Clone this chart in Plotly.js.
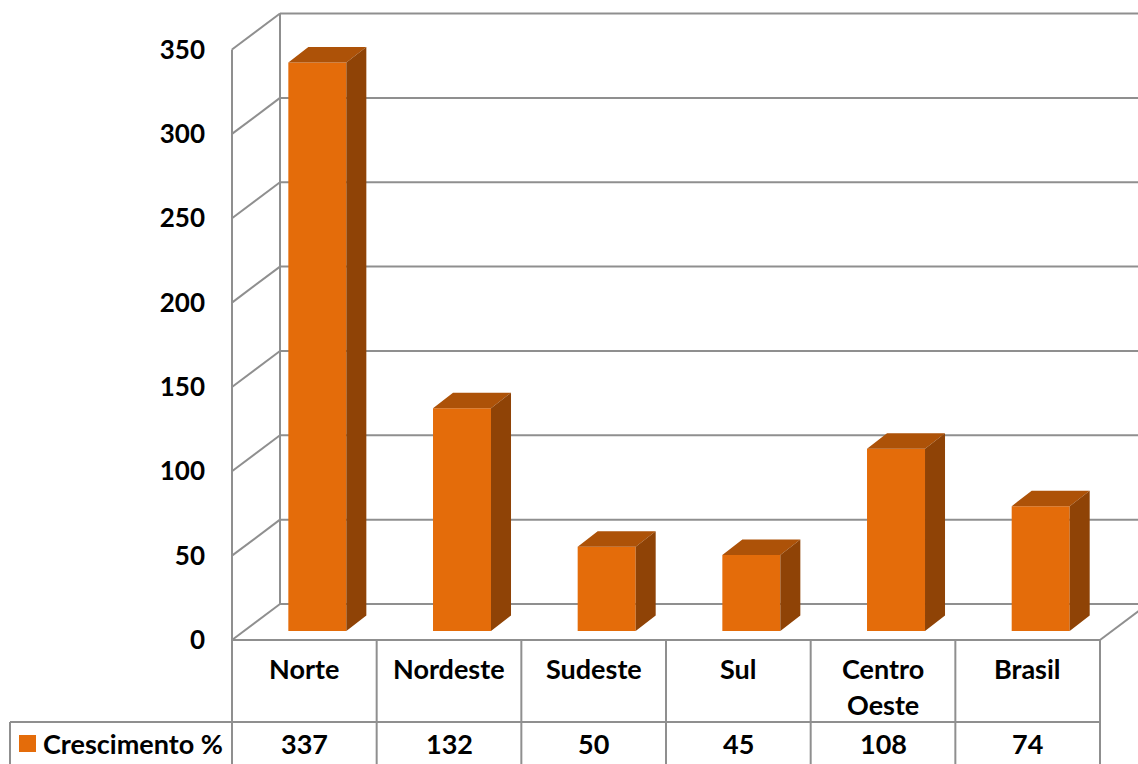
<!DOCTYPE html>
<html>
<head>
<meta charset="utf-8">
<script src="https://cdn.plot.ly/plotly-3.0.1.min.js"></script>
<style>html,body{margin:0;padding:0;background:#fff;}#chart{width:1138px;height:764px;}</style>
</head>
<body>
<div id="chart"></div>
<script>
// ---- data ----
const categories = ['Norte', 'Nordeste', 'Sudeste', 'Sul', 'Centro<br>Oeste', 'Brasil'];
const values = [337, 132, 50, 45, 108, 74];
const seriesName = 'Crescimento %';
const yTicks = [0, 50, 100, 150, 200, 250, 300, 350];
const yTickLabels = ['0', '50', '100', '150', '200', '250', '300', '350'];

// ---- geometry (layout only) ----
const W = 1138, H = 764;
const X0 = 232, UX = 144.67;   // px of x=0, px per category
const Y0 = 640, UY = 1.687;    // px of value 0 (front plane), px per unit
const px2x = p => (p - X0) / UX;
const py2y = p => (Y0 - p) / UY;
const DX = 48 / UX, DY = 36 / UY;           // full floor depth
const BFX = 13 / UX, BFY = 9 / UY;          // bar front plane offset
const BDX = 20 / UX, BDY = 15.5 / UY;       // bar depth
const BW = 58 / UX;                         // bar width
const GRID = '#8f8f8f';
const FONT = {family: 'Lato, "Open Sans", sans-serif', size: 27, color: '#000', weight: 700};
const TICKFONT = {family: 'Lato, "Open Sans", sans-serif', size: 26, color: '#000', weight: 700};

const nCat = categories.length;
const xc = categories.map((_, i) => i + 0.5 + BFX);

// front faces
const frontFace = {
  type: 'bar', x: xc, y: values, base: values.map(() => BFY), width: BW,
  marker: {color: '#e46c0a', line: {width: 0}}, hoverinfo: 'skip', name: seriesName
};
// top and side faces
const tx = [], ty = [], sx = [], sy = [];
values.forEach((v, i) => {
  const xl = xc[i] - BW / 2, xr = xc[i] + BW / 2, b = BFY, t = BFY + v;
  tx.push(xl, xl + BDX, xr + BDX, xr, xl, null);
  ty.push(t, t + BDY, t + BDY, t, t, null);
  sx.push(xr, xr + BDX, xr + BDX, xr, xr, null);
  sy.push(b, b + BDY, t + BDY, t, b, null);
});
const topFace = {type: 'scatter', mode: 'lines', x: tx, y: ty, fill: 'toself', fillcolor: '#ad5208',
  line: {width: 0, color: 'rgba(0,0,0,0)'}, hoverinfo: 'skip'};
const sideFace = {type: 'scatter', mode: 'lines', x: sx, y: sy, fill: 'toself', fillcolor: '#8f4306',
  line: {width: 0, color: 'rgba(0,0,0,0)'}, hoverinfo: 'skip'};

// ---- shapes ----
const shapes = [];
const line = (x0, y0, x1, y1, w) => shapes.push({type: 'line', x0, y0, x1, y1, xref: 'x', yref: 'y',
  layer: 'below', line: {color: GRID, width: w || 2}});
const xRight = px2x(W + 20);
yTicks.forEach(t => {
  line(0, t, DX, t + DY);
  line(DX, t + DY, xRight, t + DY);
});
line(0, 0, 0, yTicks[yTicks.length - 1]);
line(DX, DY, DX, yTicks[yTicks.length - 1] + DY);
line(nCat, 0, nCat + DX, DY);
// table
const yBottom = py2y(H + 10);
line(0, 0, nCat, 0);
for (let i = 0; i <= nCat; i++) line(i, 0, i, yBottom);
line(px2x(10), py2y(722), nCat, py2y(722));
line(px2x(10), py2y(722), px2x(10), yBottom);
// legend key
shapes.push({type: 'rect', xref: 'x', yref: 'y', x0: px2x(19), x1: px2x(36), y0: py2y(735), y1: py2y(752),
  fillcolor: '#e46c0a', line: {width: 0}});

// ---- annotations ----
const annotations = [];
categories.forEach((c, i) => {
  const lines = c.split('<br>');
  lines.forEach((ln, k) => annotations.push({x: i + 0.5, y: py2y(668 + 36 * k), xref: 'x', yref: 'y',
    text: ln, showarrow: false, font: FONT, xanchor: 'center', yanchor: 'middle'}));
});
values.forEach((v, i) => annotations.push({x: i + 0.5, y: py2y(743), xref: 'x', yref: 'y',
  text: String(v), showarrow: false, font: FONT, xanchor: 'center', yanchor: 'middle'}));
annotations.push({x: px2x(41), y: py2y(743), xref: 'x', yref: 'y', text: seriesName, showarrow: false,
  font: FONT, xanchor: 'left', yanchor: 'middle'});

const layout = {
  width: W, height: H, margin: {l: 0, r: 0, t: 0, b: 0},
  paper_bgcolor: '#fff', plot_bgcolor: '#fff', showlegend: false, barmode: 'overlay',
  xaxis: {range: [px2x(0), px2x(W)], visible: false, fixedrange: true},
  yaxis: {range: [py2y(H), py2y(0)], anchor: 'free', position: X0 / W, side: 'left',
    tickvals: yTicks, ticktext: yTickLabels, showgrid: false, zeroline: false, showline: false,
    ticks: '', ticklabelstandoff: 27, tickfont: TICKFONT, fixedrange: true},
  shapes, annotations
};
Plotly.newPlot('chart', [frontFace, topFace, sideFace], layout, {displayModeBar: false, staticPlot: true});
</script>
</body>
</html>
